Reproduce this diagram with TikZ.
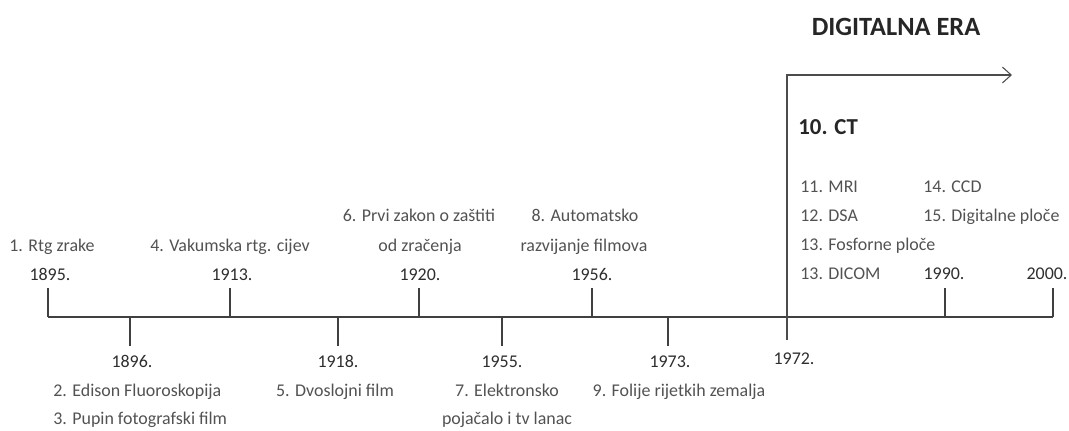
\documentclass[tikz,border=0pt]{standalone}
\usepackage{fontspec}
\setmainfont{Carlito}
\usetikzlibrary{arrows.meta}
\newcommand{\ax}{317}

\begin{document}
\begin{tikzpicture}[x=0.02cm, y=-0.02cm,
    lbl/.style={inner sep=0pt, text=black!68, font=\fontsize{10.2}{12}\selectfont, text height=7pt, text depth=2pt},
    year/.style={lbl, text=black!82},
    head/.style={inner sep=0pt, text=black!85, font=\bfseries\fontsize{13}{16}\selectfont},
    tickline/.style={draw=black!75, line width=1.2pt},
    eraline/.style={draw=black!70, line width=0.6pt}]
    \useasboundingbox (0,0) rectangle (1069,430);

    % Axis
    \coordinate (start) at (48,\ax);
    \coordinate (end) at (1053,\ax);
    \draw[tickline] (start) -- (end);

    % Ticks above and below the axis
    \foreach \x in {48,230,419,592,945,1053}
        \draw[tickline] (\x,\ax) -- (\x,288);
    \foreach \x in {130,338,502,668}
        \draw[tickline] (\x,\ax) -- (\x,346);

    % Upper labels
    \node[lbl] (rtg) at (52,247) {1. Rtg zrake};
    \node[year] (y1895) at (50,276) {1895.};
    \node[lbl] (vakum) at (230,247) {4. Vakumska rtg. cijev};
    \node[year] (y1913) at (232,276) {1913.};
    \node[lbl] (zakon) at (419,217) {6. Prvi zakon o zaštiti};
    \node[lbl] (zracenje) at (420,247) {od zračenja};
    \node[year] (y1920) at (420,276) {1920.};
    \node[lbl] (auto) at (585,217) {8. Automatsko};
    \node[lbl] (razvij) at (584,247) {razvijanje filmova};
    \node[year] (y1956) at (592,276) {1956.};
    \node[year] (y1990) at (944,275) {1990.};
    \node[year] (y2000) at (1047,275) {2000.};

    % Lower labels
    \node[year] (y1896) at (132,363) {1896.};
    \node[lbl, anchor=west] (edison) at (53,392) {2. Edison Fluoroskopija};
    \node[lbl, anchor=west] (pupin) at (53,420) {3. Pupin fotografski film};
    \node[year] (y1918) at (338,363) {1918.};
    \node[lbl] (dvosloj) at (335,392) {5. Dvoslojni film};
    \node[year] (y1955) at (502,363) {1955.};
    \node[lbl] (elektro) at (507,392) {7. Elektronsko};
    \node[lbl] (pojacalo) at (507,420) {pojačalo i tv lanac};
    \node[year] (y1973) at (670,363) {1973.};
    \node[lbl] (folije) at (679,392) {9. Folije rijetkih zemalja};
    \node[year] (y1972) at (794,360) {1972.};

    % Digital era
    \coordinate (era-bottom) at (787,340);
    \coordinate (era-corner) at (787,75);
    \coordinate (era-tip) at (1012,75);
    \draw[eraline, -{Straight Barb[length=5pt, width=9pt]}] (era-bottom) -- (era-corner) -- (era-tip);
    \node[head, font=\bfseries\fontsize{15}{17}\selectfont] (era) at (896,27) {DIGITALNA ERA};
    \node[head, anchor=west] (ct) at (798,127) {10. CT};
    \node[lbl, anchor=west] (mri) at (800,188) {11. MRI};
    \node[lbl, anchor=west] (dsa) at (800,217) {12. DSA};
    \node[lbl, anchor=west] (fosfor) at (800,246) {13. Fosforne ploče};
    \node[lbl, anchor=west] (dicom) at (800,275) {13. DICOM};
    \node[lbl, anchor=west] (ccd) at (923,188) {14. CCD};
    \node[lbl, anchor=west] (digit) at (923,217) {15. Digitalne ploče};

\end{tikzpicture}
\end{document}
